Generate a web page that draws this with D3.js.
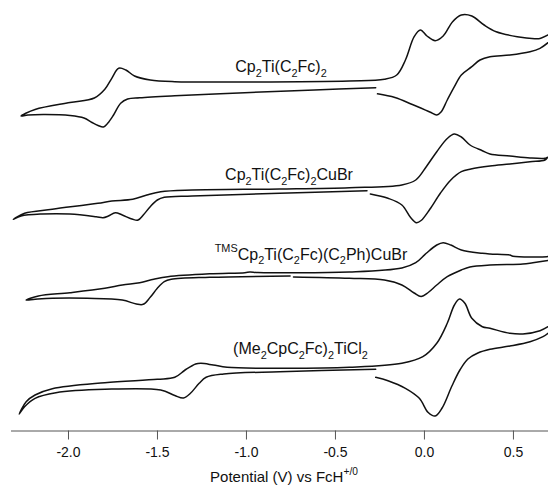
<!DOCTYPE html>
<html><head><meta charset="utf-8">
<script src="https://cdn.jsdelivr.net/npm/d3@7"></script>
<style>body{margin:0;background:#fff} svg{display:block}</style>
</head><body>
<svg id="chart" width="548" height="486"></svg>
<script>
// Potential axis ticks (V vs FcH+/0)
const tickValues = [-2.0, -1.5, -1.0, -0.5, 0.0, 0.5];
const tickLabels = ["-2.0", "-1.5", "-1.0", "-0.5", "0.0", "0.5"];

// Compound labels: [text, mode]  (n = normal, sub = subscript, sup = superscript)
const label1 = [["Cp","n"],["2","sub"],["Ti(C","n"],["2","sub"],["Fc)","n"],["2","sub"]];
const label2 = [["Cp","n"],["2","sub"],["Ti(C","n"],["2","sub"],["Fc)","n"],["2","sub"],["CuBr","n"]];
const label3 = [["TMS","sup"],["Cp","n"],["2","sub"],["Ti(C","n"],["2","sub"],["Fc)(C","n"],["2","sub"],["Ph)CuBr","n"]];
const label4 = [["(Me","n"],["2","sub"],["CpC","n"],["2","sub"],["Fc)","n"],["2","sub"],["TiCl","n"],["2","sub"]];
const axisTitle = [["Potential (V) vs FcH","n"],["+/0","sup"]];

// Cyclic voltammograms: [E (V), stacked current (a.u.)]; null = break in the trace
const cv1 = [
 [-0.271,342.3],[-0.615,340],[-1.007,337.3],[-1.400,334.3],[-1.597,332.3],[-1.665,331],[-1.704,326.7],
 [-1.744,315],[-1.777,306.7],[-1.801,303],[-1.831,304.5],[-1.865,307.5],[-1.910,312],[-1.989,314.5],
 [-2.127,315.5],[-2.225,315],[-2.264,314],
 [-2.185,320.5],[-1.989,327.5],[-1.852,332],[-1.793,340.7],[-1.754,351.7],[-1.715,361.7],[-1.675,360],
 [-1.626,354],[-1.538,350],[-1.400,348.3],[-1.007,348],[-0.419,349],[-0.222,350.7],[-0.153,355],
 [-0.104,370],[-0.055,393.3],[-0.020,400],[0.017,394],[0.063,389.3],[0.108,394],[0.161,408.3],
 [0.210,415],[0.269,414],[0.338,405],[0.406,398.3],[0.524,393.3],[0.622,391.3],[0.652,391.5],[0.697,395],
 null,
 [0.697,387.3],[0.652,381.7],[0.596,378.3],[0.483,375],[0.371,373.3],[0.315,370],[0.269,363.3],
 [0.210,355],[0.171,343.3],[0.131,330],[0.096,318],[0.072,315],[0.033,318],[-0.065,325.5],
 [-0.163,332.5],[-0.261,336.2]
];
const cv2 = [
 [-0.320,239.3],[-0.811,236.7],[-1.302,234],[-1.459,232.7],[-1.498,230],[-1.538,223.3],[-1.577,215],
 [-1.606,210],[-1.636,210.7],[-1.695,215],[-1.734,217.3],[-1.773,214],[-1.803,212.3],[-1.842,213.3],
 [-1.989,216],[-2.147,216],[-2.264,214],[-2.307,210.7],
 [-2.244,216.7],[-2.088,220.7],[-1.832,226.7],[-1.754,229],[-1.636,230.7],[-1.557,235],[-1.479,238.3],
 [-1.302,240],[-0.811,241],[-0.419,242.3],[-0.124,245],[-0.046,250],[0.013,263.3],[0.072,278.3],
 [0.131,291.5],[0.171,296],[0.210,293],[0.259,285],[0.328,279.3],[0.371,276],[0.483,274],
 [0.596,272],[0.680,271.7],[0.694,272.7],
 [0.680,270],[0.596,268.3],[0.483,266],[0.371,264],[0.264,261],[0.210,258.3],[0.151,250],
 [0.092,236.7],[0.033,220.7],[-0.016,209.5],[-0.042,207.3],[-0.075,212.5],[-0.124,225],
 [-0.202,231.7],[-0.301,236]
];
const cv3 = [
 [-0.752,154],[-1.204,152.7],[-1.420,150.7],[-1.459,148.3],[-1.498,141.7],[-1.538,132.7],[-1.577,125.7],
 [-1.616,126],[-1.695,130],[-1.891,131.7],[-2.088,131.7],[-2.185,130.7],[-2.235,130],
 [-2.166,134],[-1.989,137.3],[-1.793,141.7],[-1.695,145],[-1.597,147.3],[-1.518,150.7],[-1.439,153.3],
 [-1.204,156.2],[-1.006,157.3],[-0.978,158],[-0.933,157.5],[-0.419,158],[-0.124,162],[-0.046,167.3],
 [0.013,176.7],[0.072,185],[0.108,187.3],[0.151,185],[0.210,180],[0.328,176.7],[0.371,176],
 [0.483,175],[0.500,173.8],[0.691,173.3],[0.697,173.5],
 null,
 [0.697,169.5],[0.612,167.3],[0.556,166],[0.371,165],[0.258,163],[0.210,160],[0.131,153.3],
 [0.072,145],[0.024,137.5],[-0.016,133.5],[-0.055,137],[-0.124,145],[-0.222,150],[-0.419,151.7],
 [-0.733,153]
];
const cv4 = [
 [-0.271,60.7],[-0.811,58.3],[-1.125,56],[-1.224,52.7],[-1.263,46.7],[-1.312,36.7],[-1.351,32],
 [-1.400,34.5],[-1.479,40],[-1.793,40.7],[-2.068,37.3],[-2.185,31.7],[-2.244,23.3],[-2.274,16],
 [-2.235,28.3],[-2.185,35],[-2.088,41.3],[-1.793,47.3],[-1.498,50.7],[-1.400,52.7],[-1.342,60],
 [-1.283,66],[-1.253,66.7],[-1.184,65],[-1.106,62.7],[-0.811,61.7],[-0.419,62.7],[-0.124,66.7],
 [-0.006,73.3],[0.072,86.7],[0.131,106.7],[0.171,125],[0.200,131],[0.230,126.7],[0.269,111.7],
 [0.328,103.3],[0.371,101.7],[0.483,96.7],[0.556,96],[0.652,99.3],[0.697,103.3],
 null,
 [0.697,96.7],[0.669,93.3],[0.596,88.3],[0.483,84],[0.371,80.7],[0.303,77],[0.247,71],[0.202,60],
 [0.157,44],[0.102,22],[0.063,14],[0.024,17.5],[-0.026,31.7],[-0.104,41.7],[-0.202,49.3],[-0.271,52.7]
];

const svg = d3.select("#chart");
const x = d3.scaleLinear().domain([-2.323, 0.697]).range([10.5, 548]);
const y = d3.scaleLinear().domain([0, 430]).range([430, 0]);

const line = d3.line().defined(d => d !== null)
  .x(d => x(d[0])).y(d => y(d[1])).curve(d3.curveCatmullRom.alpha(0.5));

[cv1, cv2, cv3, cv4].forEach(cv => {
  svg.append("path").datum(cv).attr("d", line)
    .attr("fill", "none").attr("stroke", "#111").attr("stroke-width", 1.5)
    .attr("stroke-linejoin", "round").attr("stroke-linecap", "round");
});

const FONT = "'Liberation Sans', Arial, Helvetica, sans-serif";
function richText(parts, px, py, size, anchor) {
  const t = svg.append("text").attr("x", px).attr("y", py)
    .attr("font-family", FONT).attr("font-size", size).attr("fill", "#111")
    .attr("text-anchor", anchor || "middle");
  let shift = 0;
  parts.forEach(([s, mode]) => {
    const target = mode === "sub" ? size * 0.3 : mode === "sup" ? -size * 0.45 : 0;
    t.append("tspan").text(s)
      .attr("font-size", mode === "n" ? size : size * 0.68)
      .attr("dy", target - shift);
    shift = target;
  });
  return t;
}

richText(label1, 281, 72, 16);
richText(label2, 289, 180, 16);
richText(label3, 311, 259.5, 16);
richText(label4, 300.5, 354, 16);

const axis = d3.axisBottom(x).tickValues(tickValues)
  .tickFormat((d, i) => tickLabels[i]).tickSize(9).tickSizeOuter(0).tickPadding(8);
const g = svg.append("g").attr("transform", "translate(0,430.5)").call(axis);
g.select(".domain").attr("stroke", "#555").attr("stroke-width", 1);
g.selectAll(".tick line").attr("stroke", "#555").attr("stroke-width", 1);
g.selectAll(".tick text").attr("font-family", FONT).attr("font-size", 14).attr("fill", "#111");

richText(axisTitle, 284, 482, 15);
</script>
</body></html>
